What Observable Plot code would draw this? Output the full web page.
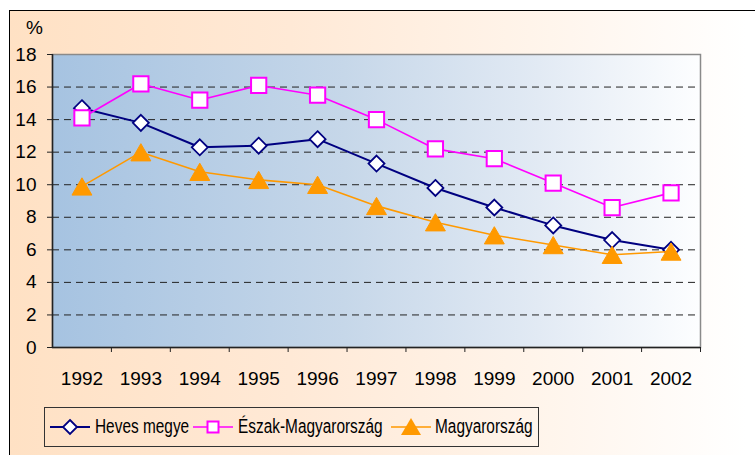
<!DOCTYPE html>
<html>
<head>
<meta charset="utf-8">
<script src="https://cdn.jsdelivr.net/npm/d3@7"></script>
<script src="https://cdn.jsdelivr.net/npm/@observablehq/plot@0.6"></script>
<style>
  html, body { margin: 0; padding: 0; width: 755px; height: 455px; overflow: hidden; background: #fff; }
  #wrap { position: relative; width: 755px; height: 455px; }
  #outer { position: absolute; left: 9px; top: 10px; width: 800px; height: 500px; border: 1px solid #000;
    background: linear-gradient(to right, #FFE1C4 0%, #FFE9D6 35%, #FFF4EA 65%, #FFFFFF 92%); }
  #chart { position: absolute; left: 0; top: 0; }
  #chart svg text { font-size: 19px; font-family: "Liberation Sans", Arial, sans-serif; fill: #000; }
  #legend { position: absolute; left: 44px; top: 407px; width: 493px; height: 38px; border: 1px solid #333;
    font-family: "Liberation Sans", Arial, sans-serif; font-size: 20px; color: #000; }
  .icon { position: absolute; top: 9px; }
  .lab { position: absolute; top: 7px; line-height: 23px; white-space: nowrap; transform: scaleX(0.77); transform-origin: 0 50%; }
</style>
</head>
<body>
<div id="wrap">
  <div id="outer"></div>
  <div id="chart"></div>
  <div id="legend"></div>
</div>
<script>
const years = ["1992","1993","1994","1995","1996","1997","1998","1999","2000","2001","2002"];
const heves  = [14.7, 13.8, 12.3, 12.4, 12.8, 11.3, 9.8, 8.6, 7.5, 6.6, 6.0];
const eszak  = [14.1, 16.2, 15.2, 16.1, 15.5, 14.0, 12.2, 11.6, 10.1, 8.6, 9.5];
const magyar = [9.9, 12.0, 10.8, 10.3, 10.0, 8.7, 7.7, 6.9, 6.3, 5.7, 5.9];
const seriesNames = ["Heves megye", "Észak-Magyarország", "Magyarország"];
const seriesColors = ["#000080", "#FF00FF", "#FF9900"];
const yTicks = [0, 2, 4, 6, 8, 10, 12, 14, 16, 18];
const yUnit = "%";

const rows = years.map((y, i) => ({year: y, heves: heves[i], eszak: eszak[i], magyar: magyar[i]}));

const W = 755, H = 455, mL = 52, mR = 55, mT = 54, mB = 108;
const step = (W - mL - mR) / years.length;

const chart = Plot.plot({
  width: W, height: H,
  marginLeft: mL, marginRight: mR, marginTop: mT, marginBottom: mB,
  style: {background: "transparent", fontFamily: "Liberation Sans, Arial, sans-serif", fontSize: "19px", color: "#000"},
  x: {type: "point", domain: years, padding: 0.5, round: false, axis: null},
  y: {domain: [0, 18], axis: null},
  marks: [
    Plot.frame({fill: "url(#plotBg)", stroke: "#8a8a8a", strokeWidth: 1.5}),
    Plot.gridY(yTicks.filter(v => v > 0 && v < 18), {stroke: "#222", strokeOpacity: 1, strokeDasharray: "7,5", strokeWidth: 1}),
    Plot.ruleY([0], {stroke: "#222", strokeWidth: 1.5}),
    Plot.ruleX([years[0]], {dx: -step / 2, stroke: "#222", strokeWidth: 1.5}),
    Plot.axisY({ticks: yTicks, tickSize: 5, tickPadding: 11, stroke: "#222", label: null}),
    Plot.axisX({ticks: years, tickSize: 5, dx: step / 2, tickFormat: () => "", stroke: "#222", label: null}),
    Plot.axisX({ticks: years, tickSize: 0, tickPadding: 24, label: null}),
    Plot.text([yUnit], {frameAnchor: "top-left", dx: -18, dy: -21, textAnchor: "middle", lineAnchor: "bottom"}),
    Plot.line(rows, {x: "year", y: "heves", stroke: seriesColors[0], strokeWidth: 2}),
    Plot.dot(rows, {x: "year", y: "heves", symbol: "diamond2", r: 7.2, fill: "white", stroke: seriesColors[0], strokeWidth: 1.8}),
    Plot.line(rows, {x: "year", y: "eszak", stroke: seriesColors[1], strokeWidth: 1.6}),
    Plot.dot(rows, {x: "year", y: "eszak", symbol: "square", r: 8.6, fill: "white", stroke: seriesColors[1], strokeWidth: 2}),
    Plot.line(rows, {x: "year", y: "magyar", stroke: seriesColors[2], strokeWidth: 1.6}),
    Plot.dot(rows, {x: "year", y: "magyar", symbol: "triangle", r: 7.4, dy: 3, fill: seriesColors[2], stroke: seriesColors[2], strokeWidth: 1})
  ]
});

// gradient for plot area
const ns = "http://www.w3.org/2000/svg";
const defs = document.createElementNS(ns, "defs");
defs.innerHTML = `<linearGradient id="plotBg" x1="0" x2="1" y1="0" y2="0">
  <stop offset="0" stop-color="#A6C3E1"/>
  <stop offset="0.45" stop-color="#C6D7E9"/>
  <stop offset="0.75" stop-color="#E2EAF4"/>
  <stop offset="1" stop-color="#FDFEFF"/>
</linearGradient>`;
chart.insertBefore(defs, chart.firstChild);
document.getElementById("chart").appendChild(chart);

// legend
const legend = document.getElementById("legend");
const icons = [
  c => `<line x1="0" y1="10" x2="40" y2="10" stroke="${c}" stroke-width="2"/><path d="M20,3 L27,10 L20,17 L13,10 Z" fill="white" stroke="${c}" stroke-width="1.8"/>`,
  c => `<line x1="0" y1="10" x2="40" y2="10" stroke="${c}" stroke-width="1.6"/><rect x="14.5" y="4.5" width="11" height="11" fill="white" stroke="${c}" stroke-width="2"/>`,
  c => `<line x1="0" y1="10" x2="40" y2="10" stroke="${c}" stroke-width="1.6"/><path d="M20,1 L30,18 L10,18 Z" fill="${c}"/>`
];
const iconLefts = [5, 148, 346];
const labelLefts = [50, 193, 390];
seriesNames.forEach((name, i) => {
  const ic = document.createElement("div");
  ic.className = "icon";
  ic.style.left = iconLefts[i] + "px";
  ic.innerHTML = `<svg width="40" height="20" viewBox="0 0 40 20">${icons[i](seriesColors[i])}</svg>`;
  legend.appendChild(ic);
  const lb = document.createElement("div");
  lb.className = "lab";
  lb.style.left = labelLefts[i] + "px";
  lb.textContent = name;
  legend.appendChild(lb);
});
</script>
</body>
</html>
